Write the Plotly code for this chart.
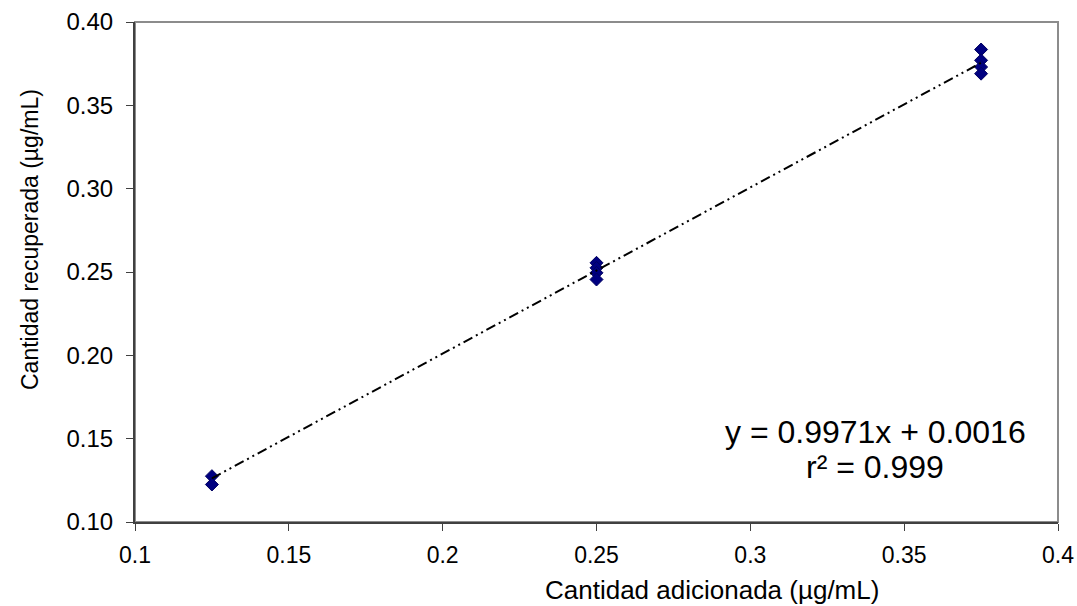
import plotly.graph_objects as go

# Data
x_added = [0.125, 0.125, 0.25, 0.25, 0.25, 0.25, 0.375, 0.375, 0.375, 0.375]
y_recovered = [0.1275, 0.1225, 0.2555, 0.2525, 0.2495, 0.2455, 0.3835, 0.3770, 0.3730, 0.3690]

slope = 0.9971
intercept = 0.0016
fit_x = [0.125, 0.375]
fit_y = [slope * v + intercept for v in fit_x]

x_ticks = [0.1, 0.15, 0.2, 0.25, 0.3, 0.35, 0.4]
x_tick_labels = ["0.1", "0.15", "0.2", "0.25", "0.3", "0.35", "0.4"]
y_ticks = [0.10, 0.15, 0.20, 0.25, 0.30, 0.35, 0.40]
y_tick_labels = ["0.10", "0.15", "0.20", "0.25", "0.30", "0.35", "0.40"]

FONT = "Liberation Sans, Arial, sans-serif"

fig = go.Figure()
fig.add_trace(go.Scatter(
    x=x_added, y=y_recovered, mode="markers",
    marker=dict(symbol="diamond", size=10, color="#000080",
                line=dict(color="#000060", width=1)),
    showlegend=False, cliponaxis=False))
fig.add_trace(go.Scatter(
    x=fit_x, y=fit_y, mode="lines",
    line=dict(color="black", width=2, dash="10px,4px,2px,4px,2px,4px"),
    showlegend=False))

fig.update_layout(
    width=1077, height=606,
    margin=dict(l=135, r=19, t=22, b=84),
    paper_bgcolor="white", plot_bgcolor="white",
    font=dict(family=FONT, size=22, color="black"),
    xaxis=dict(range=[0.1, 0.4], tickvals=x_ticks, ticktext=x_tick_labels,
               automargin=False,
               showgrid=False, zeroline=False, showline=True,
               linecolor="#404040", linewidth=2, ticks="outside", ticklen=7,
               tickcolor="#404040", tickwidth=1,
               tickfont=dict(family=FONT, size=23), ticklabelstandoff=4),
    yaxis=dict(range=[0.10, 0.40], tickvals=y_ticks, ticktext=y_tick_labels,
               automargin=False,
               showgrid=False, zeroline=False, showline=True,
               linecolor="#404040", linewidth=2, ticks="outside", ticklen=7,
               tickcolor="#404040", tickwidth=1,
               tickfont=dict(family=FONT, size=24), ticklabelstandoff=8),
    shapes=[dict(type="rect", xref="paper", yref="paper", x0=0, y0=0, x1=1, y1=1,
                 line=dict(color="#8c8c8c", width=2), layer="below")],
    annotations=[
        dict(text="Cantidad adicionada (\u00b5g/mL)", xref="paper", yref="paper",
             x=(712 - 135) / 923, y=-(590 - 522) / 500, xanchor="center", yanchor="middle",
             showarrow=False, font=dict(family=FONT, size=26)),
        dict(text="Cantidad recuperada (\u00b5g/mL)", xref="paper", yref="paper",
             x=-(135 - 30) / 923, y=(522 - 240) / 500, xanchor="center", yanchor="middle",
             textangle=-90, showarrow=False, font=dict(family=FONT, size=23)),
        dict(text="y = 0.9971x + 0.0016", xref="paper", yref="paper",
             x=(875 - 135) / 923, y=(522 - 432) / 500, xanchor="center", yanchor="middle",
             showarrow=False, font=dict(family=FONT, size=32)),
        dict(text="r\u00b2 = 0.999", xref="paper", yref="paper",
             x=(875 - 135) / 923, y=(522 - 467) / 500, xanchor="center", yanchor="middle",
             showarrow=False, font=dict(family=FONT, size=32)),
    ],
)

fig.write_html("out.html")
